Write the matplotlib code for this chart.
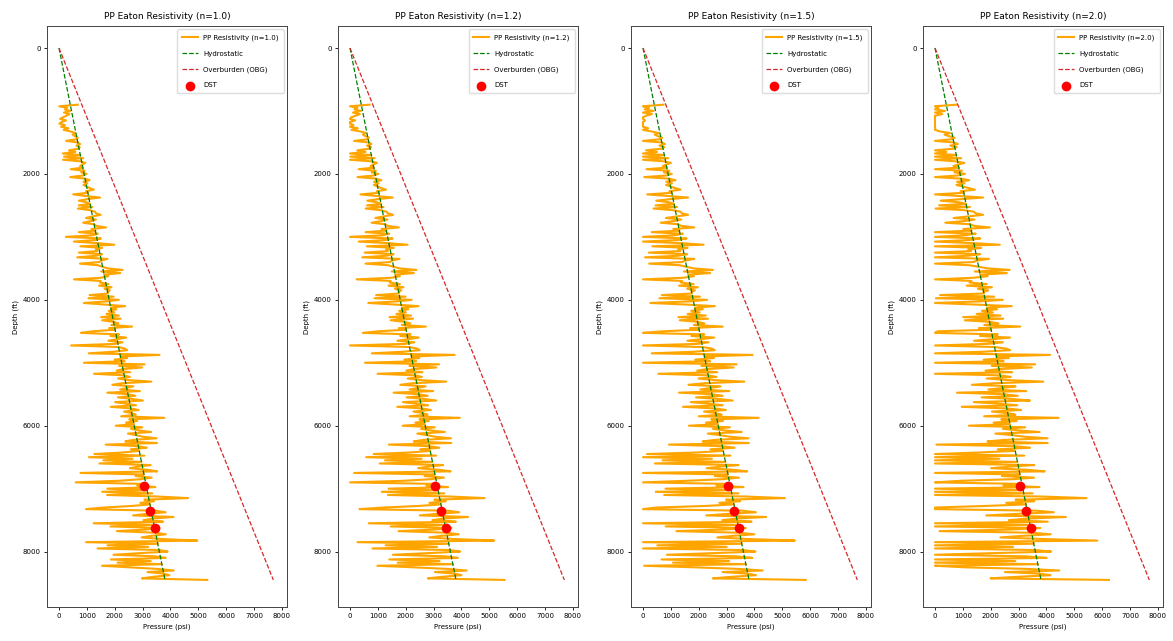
import numpy as np
import matplotlib
matplotlib.use("Agg")
import matplotlib.pyplot as plt

# ---------------- data ----------------
eaton_n = [1.0, 1.2, 1.5, 2.0]

# resistivity ratio R/Rn read along the log (25 ft samples starting at 900 ft)
DEPTH_TOP = 900
DEPTH_STEP = 25
res_ratio = [
    0.35, 1.95, 1.3, 1.5, 1.1, 1.6, 1.2, 1.45, 1.7, 1.9, 1.5, 1.8, 1.95, 1.6, 1.85, 1.4, 1.7, 1.3, 1.05, 1.2,
    1.1, 0.95, 1.05, 1.6, 1.0, 0.9, 1.1, 0.95, 1.05, 1.5, 1.2, 1.8, 1.0, 1.75, 0.9, 1.8, 1.05, 0.85, 1.0, 1.1,
    1.0, 1.5, 0.95, 1.1, 0.9, 1.05, 1.55, 1.0, 0.84, 1.08, 0.95, 1.1, 1.0, 0.9, 0.77, 1.05, 1.0, 1.5, 1.1, 0.63,
    1.05, 1.34, 1.1, 1.0, 1.36, 0.95, 1.4, 1.05, 0.9, 0.88, 0.75, 1.0, 1.2, 0.92, 1.08, 1.3, 1.0, 0.95, 0.69, 1.1,
    1.0, 1.45, 0.95, 1.1, 1.8, 0.9, 1.05, 1.6, 1.0, 0.6, 1.45, 0.92, 1.08, 1.05, 1.5, 0.95, 1.1, 1.55, 0.85, 1.0,
    1.05, 1.5, 1.1, 1.0, 0.9, 0.57, 1.05, 0.64, 1.0, 0.92, 1.08, 1.66, 1.1, 1.12, 0.95, 1.15, 0.9, 1.05, 0.95, 1.0,
    1.0, 1.37, 0.9, 1.4, 0.81, 1.05, 1.5, 1.1, 0.72, 1.0, 0.9, 1.05, 0.95, 1.1, 0.88, 1.21, 0.86, 1.2, 1.0, 0.92,
    1.05, 0.69, 1.1, 1.0, 1.39, 1.6, 0.95, 1.1, 0.84, 1.0, 1.15, 0.92, 1.05, 1.78, 1.0, 0.9, 0.87, 1.1, 1.5, 0.37,
    1.0, 0.9, 1.1, 0.95, 1.59, 0.65, 1.05, 0.7, 1.0, 1.1, 0.9, 1.45, 1.0, 0.92, 1.1, 0.95, 0.62, 1.05, 1.2, 0.9,
    1.0, 1.1, 0.82, 1.29, 1.0, 0.9, 1.15, 0.95, 0.81, 1.2, 1.05, 0.92, 1.27, 1.0, 0.9, 1.1, 1.0, 0.95, 1.15, 0.58,
    1.05, 0.95, 1.1, 1.0, 1.24, 0.9, 1.05, 0.95, 0.8, 1.1, 1.0, 0.92, 0.75, 1.05, 1.15, 0.76, 1.4, 1.0, 0.9, 1.1,
    1.0, 1.2, 1.55, 0.95, 1.62, 1.1, 1.45, 1.0, 1.5, 0.9, 1.05, 1.15, 0.95, 0.84, 1.73, 1.0, 1.1, 0.92, 1.05, 1.3,
    1.79, 1.0, 1.1, 0.9, 1.44, 1.0, 1.5, 0.95, 1.45, 0.9, 0.57, 1.05, 0.95, 1.1, 1.0, 1.2, 1.5, 1.69, 0.95, 0.85,
    1.05, 1.2, 0.78, 1.0, 1.1, 0.9, 1.62, 1.0, 1.45, 0.95, 1.1, 1.39, 1.0, 0.9, 1.05, 1.15, 0.95, 0.6, 1.71, 1.0,
    1.5, 1.1, 1.6, 1.0, 0.92, 1.2, 1.45, 1.05, 0.95, 1.48, 1.1, 1.42, 1.0, 1.57, 1.3, 1.05, 0.9, 1.15, 1.0, 0.95,
    1.1, 1.21, 0.61,
]

hydro_grad = 0.45   # psi/ft
obg_grad = 0.91     # psi/ft

dst_depth = [6950, 7350, 7620]
dst_pressure = [3050, 3250, 3450]

x_ticks = [0, 1000, 2000, 3000, 4000, 5000, 6000, 7000, 8000]
y_ticks = [0, 2000, 4000, 6000, 8000]

# ---------------- derived ----------------
res_ratio = np.array(res_ratio)
depth_ft = DEPTH_TOP + DEPTH_STEP * np.arange(len(res_ratio))
ph = hydro_grad * depth_ft
obg = obg_grad * depth_ft
line_depth = np.concatenate([[0.0], depth_ft])

# ---------------- figure ----------------
W, H = 1173, 641
fig = plt.figure(figsize=(W / 100, H / 100), dpi=100)

ax_lefts = [47, 338, 631, 923]
ax_w = 240
ax_top, ax_bot = 26, 607

for left, n in zip(ax_lefts, eaton_n):
    ax = fig.add_axes([left / W, (H - ax_bot) / H, ax_w / W, (ax_bot - ax_top) / H])
    pp = np.clip(obg - (obg - ph) * res_ratio ** n, 0, None)
    ax.plot(pp, depth_ft, color="orange", lw=1.5, label=f"PP Resistivity (n={n:.1f})")
    ax.plot(hydro_grad * line_depth, line_depth, "--", color="green", lw=0.9, label="Hydrostatic")
    ax.plot(obg_grad * line_depth, line_depth, "--", color="#d62728", lw=0.9, label="Overburden (OBG)")
    ax.scatter(dst_pressure, dst_depth, s=36, color="red", zorder=5, label="DST")

    ax.set_xlim(-430, 8180)
    ax.set_ylim(8880, -350)
    ax.set_xticks(x_ticks)
    ax.set_yticks(y_ticks)
    ax.tick_params(labelsize=5, length=2.5, width=0.6, pad=2)
    for s in ax.spines.values():
        s.set_linewidth(0.7)
        s.set_color("#444444")
    ax.set_title(f"PP Eaton Resistivity (n={n:.1f})", fontsize=6.5, pad=5)
    ax.set_xlabel("Pressure (psi)", fontsize=5, labelpad=3)
    ax.set_ylabel("Depth (ft)", fontsize=5, labelpad=3)
    ax.legend(loc="upper right", fontsize=5, labelspacing=1.4, handlelength=2.2,
              borderpad=0.7, framealpha=1.0, edgecolor="#dddddd", fancybox=True)

fig.savefig("out.png", dpi=100)
